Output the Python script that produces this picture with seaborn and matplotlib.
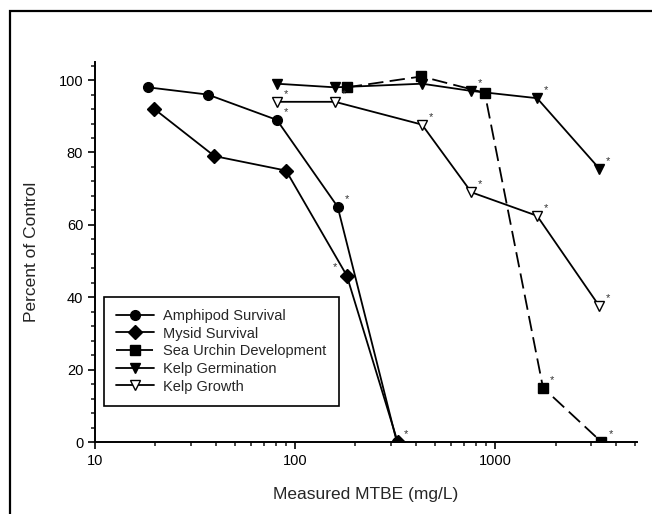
import matplotlib
matplotlib.use("Agg")
import matplotlib.pyplot as plt
import matplotlib.patches as patches
from matplotlib.ticker import MultipleLocator, LogLocator, NullFormatter, FixedLocator, FixedFormatter
import seaborn as sns

# data
amphipod_x = [18.4, 36.6, 81, 163, 322]
amphipod_y = [98, 96, 89, 65, 0]
amphipod_sig = [0, 0, 1, 1, 1]

mysid_x = [19.8, 39.5, 90, 181, 325]
mysid_y = [92, 79, 75, 46, 0]
mysid_sig = [0, 0, 0, 1, 0]

urchin_x = [181, 427, 885, 1730, 3390]
urchin_y = [98, 101, 96.5, 15, 0]
urchin_sig = [0, 0, 0, 1, 1]

germ_x = [81, 158, 430, 759, 1616, 3311]
germ_y = [99, 98, 99, 97, 95, 75.5]
germ_sig = [0, 0, 0, 1, 1, 1]

growth_x = [81, 158, 430, 759, 1616, 3311]
growth_y = [94, 94, 87.7, 69, 62.5, 37.5]
growth_sig = [1, 1, 1, 1, 1, 1]

labels = ["Amphipod Survival", "Mysid Survival", "Sea Urchin Development",
          "Kelp Germination", "Kelp Growth"]

sns.set_style("ticks")
plt.rcParams['font.family'] = ['Liberation Sans', 'DejaVu Sans']

fig = plt.figure(figsize=(6.52, 5.14), dpi=100)
ax = fig.add_axes([95 / 652, 1 - 442 / 514, 542 / 652, 380 / 514])

# outer frame of the original page (clipped at right and bottom)
fig.patches.append(patches.Rectangle((10 / 652, -0.1), 1.2, 1 - 10.5 / 514 + 0.1,
                                     transform=fig.transFigure, fill=False,
                                     edgecolor="black", linewidth=1.6))

series = [
    (amphipod_x, amphipod_y, amphipod_sig, "o", "black", 7, "-"),
    (mysid_x, mysid_y, mysid_sig, "D", "black", 7, "-"),
    (urchin_x, urchin_y, urchin_sig, "s", "black", 7, (0, (8.5, 3.5))),
    (germ_x, germ_y, germ_sig, "v", "black", 7.5, "-"),
    (growth_x, growth_y, growth_sig, "v", "white", 7.5, "-"),
]

for (xs, ys, sig, mk, fc, ms, ls), lab in zip(series, labels):
    sns.lineplot(x=xs, y=ys, ax=ax, color="black", marker=mk, markersize=ms,
                 markerfacecolor=fc, markeredgecolor="black", markeredgewidth=1,
                 linewidth=1.3, linestyle=ls, estimator=None, sort=False, label=lab)
    for xv, yv, s in zip(xs, ys, sig):
        if s:
            dx = -12 if (mk == "D") else 9
            ax.annotate("*", (xv, yv), xytext=(dx, 8), textcoords="offset pixels",
                        ha="center", va="center", fontsize=8, color="#333333")

ax.set_xscale("log")
ax.set_xlim(10, 5100)
ax.set_ylim(0, 105)

ax.xaxis.set_major_locator(FixedLocator([10, 100, 1000]))
ax.xaxis.set_major_formatter(FixedFormatter(["10", "100", "1000"]))
ax.xaxis.set_minor_locator(LogLocator(base=10, subs=range(2, 10)))
ax.xaxis.set_minor_formatter(NullFormatter())
ax.yaxis.set_major_locator(MultipleLocator(20))
ax.yaxis.set_minor_locator(MultipleLocator(4))

ax.tick_params(axis="both", which="major", direction="out", length=5, width=1.2,
               labelsize=10.5, colors="black")
ax.tick_params(axis="both", which="minor", direction="out", length=3, width=1.2)

for side in ["top", "right"]:
    ax.spines[side].set_visible(False)
for side in ["left", "bottom"]:
    ax.spines[side].set_linewidth(1.4)
    ax.spines[side].set_color("black")

ax.set_xlabel("Measured MTBE (mg/L)", fontsize=12.5, labelpad=14)
ax.set_ylabel("Percent of Control", fontsize=12.5, labelpad=14)

leg = ax.legend(loc="lower left", bbox_to_anchor=(0.0166, 0.095), borderaxespad=0,
                fontsize=10.5, frameon=True, fancybox=False, framealpha=1,
                edgecolor="black", handlelength=2.6, labelspacing=0.25,
                borderpad=0.85, handletextpad=0.6)
leg.get_frame().set_linewidth(1.2)

fig.savefig("out.png", dpi=100)
